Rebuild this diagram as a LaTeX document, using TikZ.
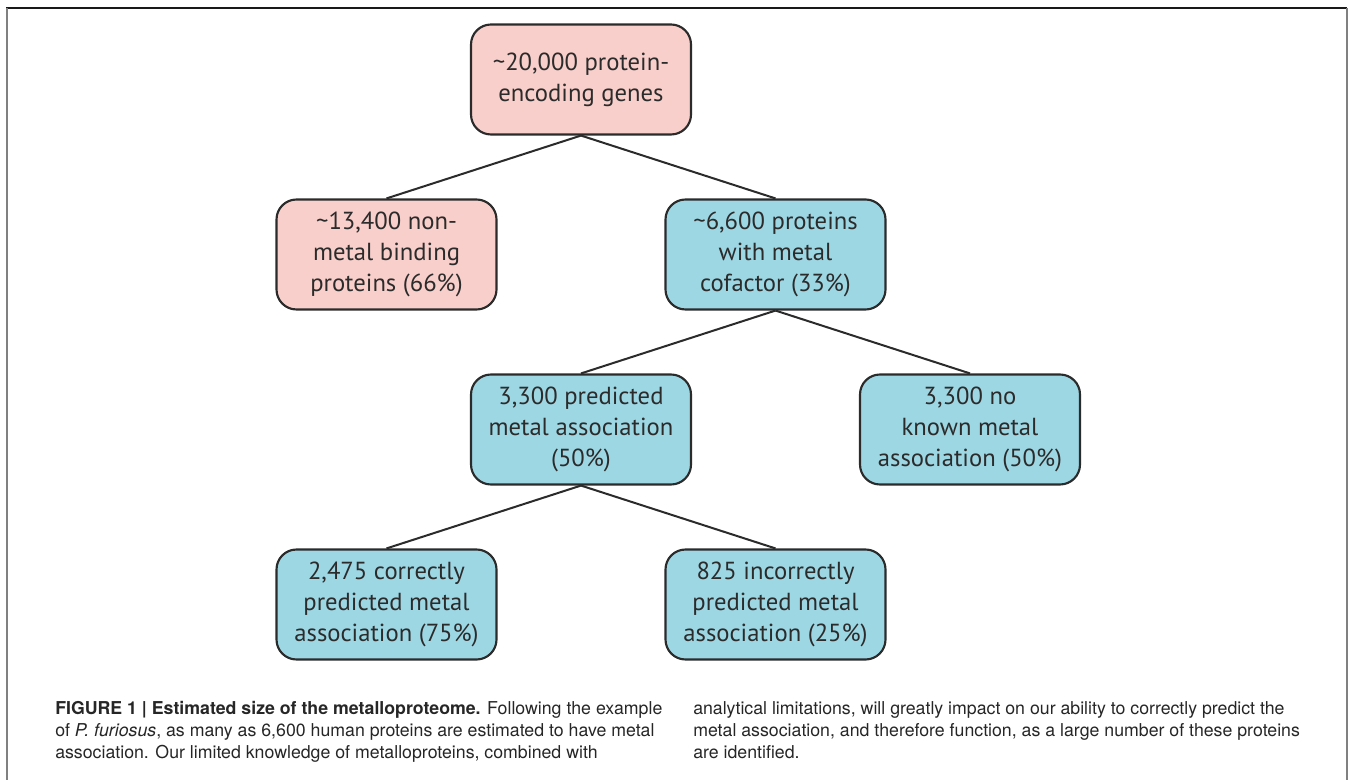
\documentclass[tikz,border=0pt]{standalone}
\usepackage{fontspec}
\newfontfamily\boxfont{PT Sans}
\newfontfamily\capfont{TeX Gyre Heros}
\definecolor{pinkfill}{HTML}{F8CFCA}
\definecolor{bluefill}{HTML}{9DD7E4}
\definecolor{boxline}{HTML}{2B2B2B}
\begin{document}
\begin{tikzpicture}
[x=0.75pt,y=-0.75pt,
level distance=131.25pt, sibling distance=291.75pt,
parent anchor=south, child anchor=north,
edge from parent/.style={draw=boxline,line width=1.5pt},
pinkbox/.style={rectangle,rounded corners=15pt,draw=boxline,line width=1.6pt,fill=pinkfill,text=boxline,minimum width=165pt,minimum height=82.5pt,align=center,font=\boxfont\fontsize{18.5}{23.25}\selectfont},
bluebox/.style={pinkbox,fill=bluefill},
caption/.style={anchor=north west,inner sep=0pt,align=left,text=black!85,font=\capfont\fontsize{13.3}{16.5}\selectfont}]
\useasboundingbox (0,0) rectangle (1349,780);
% frame
\draw[black!90,line width=1.5pt] (6,8.5) -- (1347,8.5);
\draw[black!50,line width=1.5pt] (6.5,8.5) -- (6.5,780);
\draw[black!50,line width=1.5pt] (1346.5,8.5) -- (1346.5,780);
% tree
\node[pinkbox] (root) at (581,79.5) {\textasciitilde20,000 protein-\\encoding genes}
child{
  node[pinkbox] (nonmetal) {\textasciitilde13,400 non-\\metal binding\\proteins (66\%)}
}
child{
  node[bluebox] (cofactor) {\textasciitilde6,600 proteins\\with metal\\cofactor (33\%)}
  child{
    node[bluebox] (predicted) {3,300 predicted\\metal association\\(50\%)}
    child{
      node[bluebox] (correct) {2,475 correctly\\predicted metal\\association (75\%)}
    }
    child{
      node[bluebox] (incorrect) {825 incorrectly\\predicted metal\\association (25\%)}
    }
  }
  child{
    node[bluebox] (unknown) {3,300 no\\known metal\\association (50\%)}
  }
};
% caption
\node[caption] (capleft) at (55,701) {\textbf{FIGURE 1 | Estimated size of the metalloproteome.} Following the example\\of \textit{P. furiosus}, as many as 6,600 human proteins are estimated to have metal\\association. Our limited knowledge of metalloproteins, combined with};
\node[caption] (capright) at (693,701) {analytical limitations, will greatly impact on our ability to correctly predict the\\metal association, and therefore function, as a large number of these proteins\\are identified.};
\end{tikzpicture}
\end{document}
